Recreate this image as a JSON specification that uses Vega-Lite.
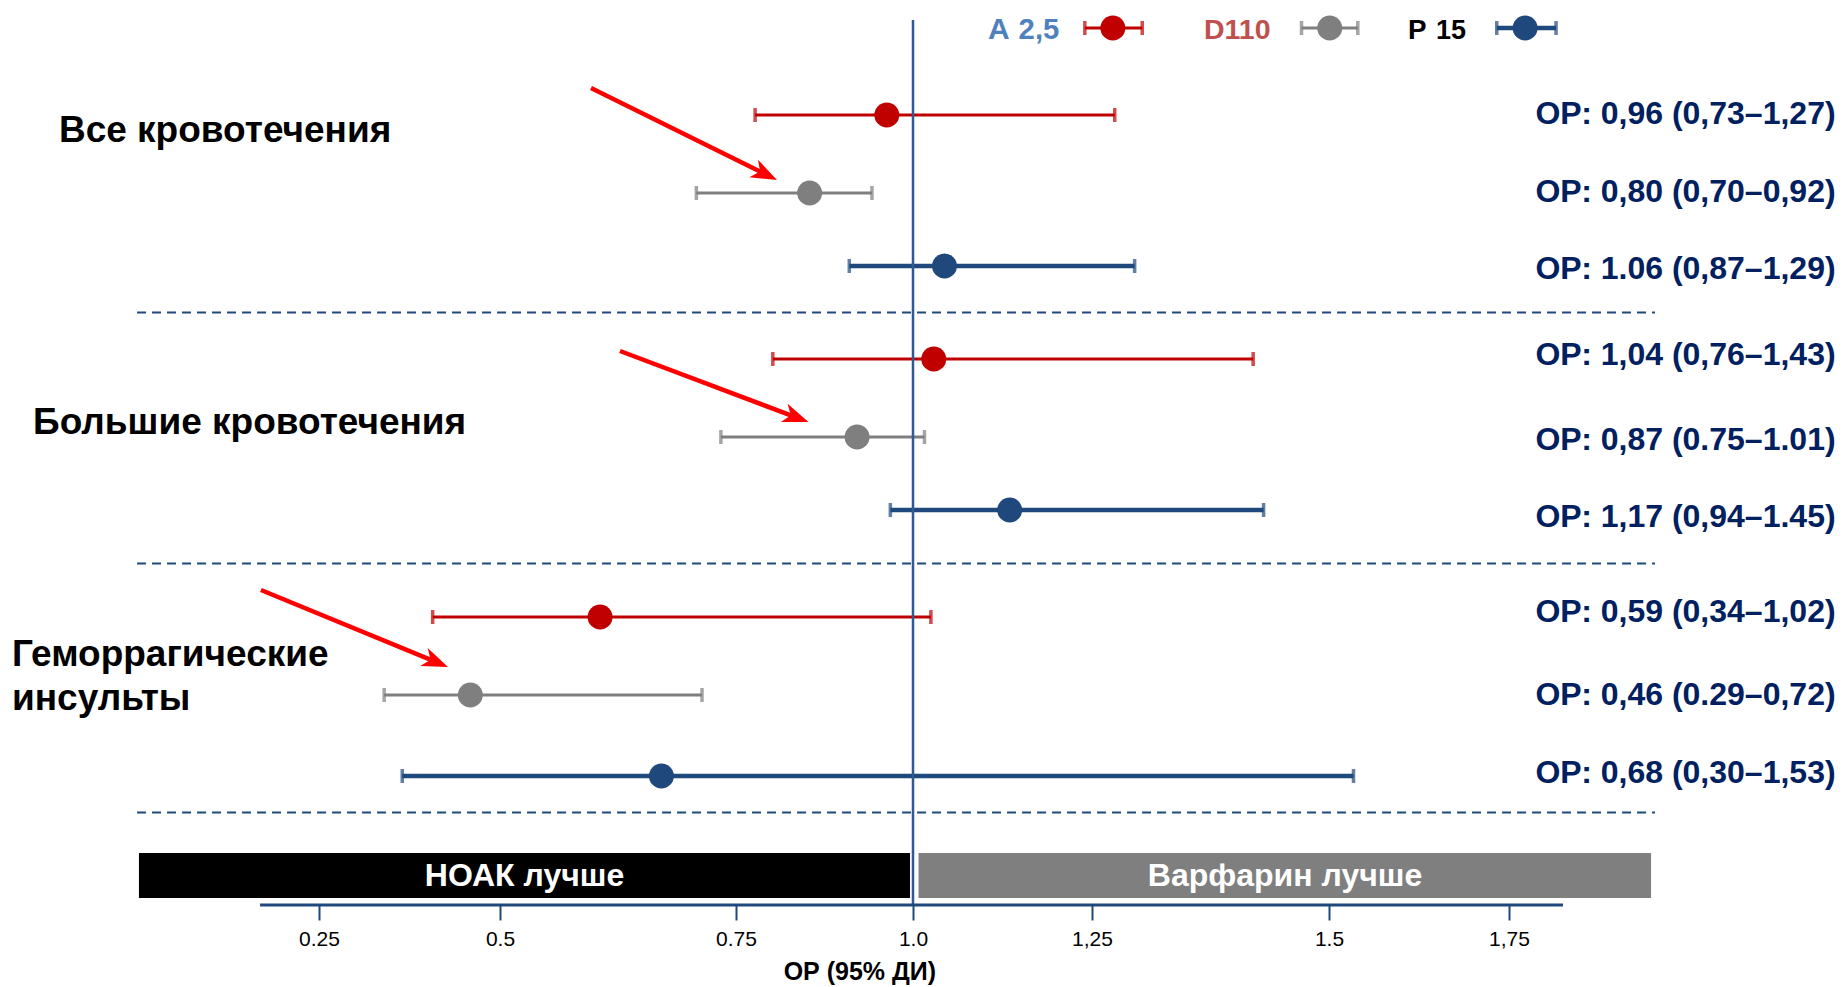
{
"$schema": "https://vega.github.io/schema/vega-lite/v6.json",
"width": 1845, "height": 905, "padding": 0,
"background": "#ffffff",
"config": {"view": {"stroke": null}, "text": {"font": "Liberation Sans"}},
"resolve": {"axis": {"x": "independent", "y": "independent"}},
"datasets": {
 "forest": [
  {"row":1,"series":"A 2,5","or":0.963,"lo":0.777,"hi":1.274,"label":"ОР: 0,96 (0,73–1,27)","ly":0.99},
  {"row":2,"series":"D110","or":0.854,"lo":0.708,"hi":0.942,"label":"ОР: 0,80 (0,70–0,92)","ly":1.99},
  {"row":3,"series":"P 15","or":1.044,"lo":0.910,"hi":1.295,"label":"ОР: 1.06 (0,87–1,29)","ly":3.03},
  {"row":4,"series":"A 2,5","or":1.029,"lo":0.802,"hi":1.420,"label":"ОР: 1,04 (0,76–1,43)","ly":3.96},
  {"row":5,"series":"D110","or":0.921,"lo":0.734,"hi":1.016,"label":"ОР: 0,87 (0.75–1.01)","ly":5.04},
  {"row":6,"series":"P 15","or":1.135,"lo":0.968,"hi":1.431,"label":"ОР: 1,17 (0,94–1.45)","ly":6.07},
  {"row":7,"series":"A 2,5","or":0.606,"lo":0.407,"hi":1.025,"label":"ОР: 0,59 (0,34–1,02)","ly":6.95},
  {"row":8,"series":"D110","or":0.459,"lo":0.340,"hi":0.714,"label":"ОР: 0,46 (0.29–0,72)","ly":8.0},
  {"row":9,"series":"P 15","or":0.671,"lo":0.365,"hi":1.534,"label":"ОР: 0,68 (0,30–1,53)","ly":8.96}
 ],
 "legend": [
  {"series":"A 2,5","or":1.272,"lo":1.240,"hi":1.303,"y":0.2435},
  {"series":"D110","or":1.501,"lo":1.471,"hi":1.540,"y":0.2435},
  {"series":"P 15","or":1.762,"lo":1.733,"hi":1.785,"y":0.2435}
 ],
 "legendText": [
  {"key":"A","x":1.1047},{"key":"2,5","x":1.1475},{"key":"D110","x":1.3681},{"key":"P","x":1.6097},{"key":"15","x":1.6486}
 ],
 "groups": [
  {"name":"Все кровотечения","x":0.0462,"y":1.35},
  {"name":"Большие кровотечения","x":0.0259,"y":4.962},
  {"name":"Геморрагические\nинсульты","x":0.0094,"y":7.628}
 ],
 "separators":[{"y":3.5},{"y":6.5},{"y":9.5}],
 "bands":[{"side":"НОАК лучше","x":0.1089,"x2":0.9958,"tx":0.526},{"side":"Варфарин лучше","x":1.0077,"x2":1.8557,"tx":1.4536}],
 "reference":[{"or":1}],
 "arrows":[
  {"id":1,"x":0.5964,"y":0.765,"x2":0.7903,"y2":1.754,"tipx":0.8079,"tipy":1.833},
  {"id":2,"x":0.6271,"y":3.914,"x2":0.8339,"y2":4.745,"tipx":0.8524,"tipy":4.808},
  {"id":3,"x":0.2045,"y":6.748,"x2":0.4104,"y2":7.573,"tipx":0.4282,"tipy":7.641}
 ],
 "axisTitle":[{"t":"ОР (95% ДИ)","x":0.925,"y":12.196}]
},
"layer": [
 {"data":{"name":"separators"},
  "mark":{"type":"rule","color":"#1F497D","strokeWidth":2,"strokeDash":[9,6]},
  "encoding":{
   "x":{"datum":0.1074,"type":"quantitative","scale":{"domain":[0,0.25,0.5,0.75,1,1.25,1.5,1.75,2],"range":[0,319,500,736,913,1092,1329,1509,1845],"nice":false,"zero":false},
        "axis":{"values":[0.25,0.5,0.75,1,1.25,1.5,1.75],"labelExpr":"datum.value == 0.25 ? '0.25' : datum.value == 0.5 ? '0.5' : datum.value == 0.75 ? '0.75' : datum.value == 1 ? '1.0' : datum.value == 1.25 ? '1,25' : datum.value == 1.5 ? '1.5' : '1,75'","domain":false,"grid":false,"ticks":true,"tickSize":15,"tickWidth":2,"tickColor":"#1F497D","labelFont":"Liberation Sans","labelFontSize":21,"labelColor":"#000000","labelPadding":8,"labelFlush":false,"labelOverlap":false,"labelBound":false,"title":null,"orient":"bottom"}},
   "x2":{"datum":1.8586},
   "y":{"field":"y","type":"quantitative","scale":{"domain":[0,1,2,3,4,5,6,7,8,9,10,11],"range":[0,115,193,266,359,437,510,617,695,776,849,905],"nice":false,"zero":false},"axis":null}}},
 {"data":{"name":"bands"},
  "mark":{"type":"rect"},
  "encoding":{
   "x":{"field":"x","type":"quantitative","scale":{"domain":[0,0.25,0.5,0.75,1,1.25,1.5,1.75,2],"range":[0,319,500,736,913,1092,1329,1509,1845],"nice":false,"zero":false},"axis":null},
   "x2":{"field":"x2"},
   "y":{"datum":10.071,"type":"quantitative","scale":{"domain":[0,1,2,3,4,5,6,7,8,9,10,11],"range":[0,115,193,266,359,437,510,617,695,776,849,905],"nice":false,"zero":false},"axis":null},
   "y2":{"datum":10.875},
   "fill":{"field":"side","type":"nominal","scale":{"domain":["A","2,5","D110","P","15","НОАК лучше","Варфарин лучше"],"range":["#4F81BD","#4F81BD","#C0504D","#000000","#000000","#000000","#7F7F7F"]},"legend":null}}},
 {"data":{"name":"bands"},
  "mark":{"type":"text","font":"Liberation Sans","fontWeight":"bold","fontSize":32,"color":"#FFFFFF","align":"center","baseline":"middle"},
  "encoding":{
   "x":{"field":"tx","type":"quantitative","scale":{"domain":[0,0.25,0.5,0.75,1,1.25,1.5,1.75,2],"range":[0,319,500,736,913,1092,1329,1509,1845],"nice":false,"zero":false},"axis":null},
   "y":{"datum":10.482,"type":"quantitative","scale":{"domain":[0,1,2,3,4,5,6,7,8,9,10,11],"range":[0,115,193,266,359,437,510,617,695,776,849,905],"nice":false,"zero":false},"axis":null},
   "text":{"field":"side"}}},
 {"data":{"name":"forest"},
  "transform":[{"filter":"datum.series != 'P 15'"}],
  "mark":{"type":"rule","strokeWidth":3},
  "encoding":{
   "x":{"field":"lo","type":"quantitative","scale":{"domain":[0,0.25,0.5,0.75,1,1.25,1.5,1.75,2],"range":[0,319,500,736,913,1092,1329,1509,1845],"nice":false,"zero":false},"axis":null},
   "x2":{"field":"hi"},
   "y":{"field":"row","type":"quantitative","scale":{"domain":[0,1,2,3,4,5,6,7,8,9,10,11],"range":[0,115,193,266,359,437,510,617,695,776,849,905],"nice":false,"zero":false},"axis":null},
   "color":{"field":"series","type":"nominal","scale":{"domain":["A 2,5","D110","P 15"],"range":["#C00000","#7F7F7F","#1F497D"]},"legend":null}}},
 {"data":{"name":"forest"},
  "transform":[{"filter":"datum.series == 'P 15'"}],
  "mark":{"type":"rule","strokeWidth":4.5},
  "encoding":{
   "x":{"field":"lo","type":"quantitative","scale":{"domain":[0,0.25,0.5,0.75,1,1.25,1.5,1.75,2],"range":[0,319,500,736,913,1092,1329,1509,1845],"nice":false,"zero":false},"axis":null},
   "x2":{"field":"hi"},
   "y":{"field":"row","type":"quantitative","scale":{"domain":[0,1,2,3,4,5,6,7,8,9,10,11],"range":[0,115,193,266,359,437,510,617,695,776,849,905],"nice":false,"zero":false},"axis":null},
   "color":{"field":"series","type":"nominal","scale":{"domain":["A 2,5","D110","P 15"],"range":["#C00000","#7F7F7F","#1F497D"]},"legend":null}}},
 {"data":{"name":"forest"},
  "mark":{"type":"tick","orient":"vertical","thickness":3.5,"size":14},
  "encoding":{
   "x":{"field":"lo","type":"quantitative","scale":{"domain":[0,0.25,0.5,0.75,1,1.25,1.5,1.75,2],"range":[0,319,500,736,913,1092,1329,1509,1845],"nice":false,"zero":false},"axis":null},
   "y":{"field":"row","type":"quantitative","scale":{"domain":[0,1,2,3,4,5,6,7,8,9,10,11],"range":[0,115,193,266,359,437,510,617,695,776,849,905],"nice":false,"zero":false},"axis":null},
   "color":{"field":"series","type":"nominal","scale":{"domain":["A 2,5","D110","P 15"],"range":["#C00000","#7F7F7F","#1F497D"]},"legend":null}}},
 {"data":{"name":"forest"},
  "mark":{"type":"tick","orient":"vertical","thickness":3.5,"size":14},
  "encoding":{
   "x":{"field":"hi","type":"quantitative","scale":{"domain":[0,0.25,0.5,0.75,1,1.25,1.5,1.75,2],"range":[0,319,500,736,913,1092,1329,1509,1845],"nice":false,"zero":false},"axis":null},
   "y":{"field":"row","type":"quantitative","scale":{"domain":[0,1,2,3,4,5,6,7,8,9,10,11],"range":[0,115,193,266,359,437,510,617,695,776,849,905],"nice":false,"zero":false},"axis":null},
   "color":{"field":"series","type":"nominal","scale":{"domain":["A 2,5","D110","P 15"],"range":["#C00000","#7F7F7F","#1F497D"]},"legend":null}}},
 {"data":{"name":"reference"},
  "mark":{"type":"rule","color":"#2E5A92","strokeWidth":2.5},
  "encoding":{
   "x":{"field":"or","type":"quantitative","scale":{"domain":[0,0.25,0.5,0.75,1,1.25,1.5,1.75,2],"range":[0,319,500,736,913,1092,1329,1509,1845],"nice":false,"zero":false},"axis":null},
   "y":{"datum":0.174,"type":"quantitative","scale":{"domain":[0,1,2,3,4,5,6,7,8,9,10,11],"range":[0,115,193,266,359,437,510,617,695,776,849,905],"nice":false,"zero":false},"axis":null},
   "y2":{"datum":11}}},
 {"data":{"name":"reference"},
  "mark":{"type":"rule","color":"#1F497D","strokeWidth":3},
  "encoding":{
   "x":{"datum":0.2038,"type":"quantitative","scale":{"domain":[0,0.25,0.5,0.75,1,1.25,1.5,1.75,2],"range":[0,319,500,736,913,1092,1329,1509,1845],"nice":false,"zero":false},"axis":null},
   "x2":{"datum":1.7902},
   "y":{"datum":11,"type":"quantitative","scale":{"domain":[0,1,2,3,4,5,6,7,8,9,10,11],"range":[0,115,193,266,359,437,510,617,695,776,849,905],"nice":false,"zero":false},"axis":null}}},
 {"data":{"name":"forest"},
  "mark":{"type":"point","filled":true,"opacity":1,"size":625,"shape":"circle"},
  "encoding":{
   "x":{"field":"or","type":"quantitative","scale":{"domain":[0,0.25,0.5,0.75,1,1.25,1.5,1.75,2],"range":[0,319,500,736,913,1092,1329,1509,1845],"nice":false,"zero":false},"axis":null},
   "y":{"field":"row","type":"quantitative","scale":{"domain":[0,1,2,3,4,5,6,7,8,9,10,11],"range":[0,115,193,266,359,437,510,617,695,776,849,905],"nice":false,"zero":false},"axis":null},
   "color":{"field":"series","type":"nominal","scale":{"domain":["A 2,5","D110","P 15"],"range":["#C00000","#7F7F7F","#1F497D"]},"legend":null}}},
 {"data":{"name":"forest"},
  "mark":{"type":"text","align":"right","baseline":"middle","font":"Liberation Sans","fontWeight":"bold","fontSize":32,"color":"#002060"},
  "encoding":{
   "x":{"datum":1.993,"type":"quantitative","scale":{"domain":[0,0.25,0.5,0.75,1,1.25,1.5,1.75,2],"range":[0,319,500,736,913,1092,1329,1509,1845],"nice":false,"zero":false},"axis":null},
   "y":{"field":"ly","type":"quantitative","scale":{"domain":[0,1,2,3,4,5,6,7,8,9,10,11],"range":[0,115,193,266,359,437,510,617,695,776,849,905],"nice":false,"zero":false},"axis":null},
   "text":{"field":"label"}}},
 {"data":{"name":"legend"},
  "transform":[{"filter":"datum.series != 'P 15'"}],
  "mark":{"type":"rule","strokeWidth":3},
  "encoding":{
   "x":{"field":"lo","type":"quantitative","scale":{"domain":[0,0.25,0.5,0.75,1,1.25,1.5,1.75,2],"range":[0,319,500,736,913,1092,1329,1509,1845],"nice":false,"zero":false},"axis":null},
   "x2":{"field":"hi"},
   "y":{"field":"y","type":"quantitative","scale":{"domain":[0,1,2,3,4,5,6,7,8,9,10,11],"range":[0,115,193,266,359,437,510,617,695,776,849,905],"nice":false,"zero":false},"axis":null},
   "color":{"field":"series","type":"nominal","scale":{"domain":["A 2,5","D110","P 15"],"range":["#C00000","#7F7F7F","#1F497D"]},"legend":null}}},
 {"data":{"name":"legend"},
  "transform":[{"filter":"datum.series == 'P 15'"}],
  "mark":{"type":"rule","strokeWidth":4.5},
  "encoding":{
   "x":{"field":"lo","type":"quantitative","scale":{"domain":[0,0.25,0.5,0.75,1,1.25,1.5,1.75,2],"range":[0,319,500,736,913,1092,1329,1509,1845],"nice":false,"zero":false},"axis":null},
   "x2":{"field":"hi"},
   "y":{"field":"y","type":"quantitative","scale":{"domain":[0,1,2,3,4,5,6,7,8,9,10,11],"range":[0,115,193,266,359,437,510,617,695,776,849,905],"nice":false,"zero":false},"axis":null},
   "color":{"field":"series","type":"nominal","scale":{"domain":["A 2,5","D110","P 15"],"range":["#C00000","#7F7F7F","#1F497D"]},"legend":null}}},
 {"data":{"name":"legend"},
  "mark":{"type":"tick","orient":"vertical","thickness":3.5,"size":14},
  "encoding":{
   "x":{"field":"lo","type":"quantitative","scale":{"domain":[0,0.25,0.5,0.75,1,1.25,1.5,1.75,2],"range":[0,319,500,736,913,1092,1329,1509,1845],"nice":false,"zero":false},"axis":null},
   "y":{"field":"y","type":"quantitative","scale":{"domain":[0,1,2,3,4,5,6,7,8,9,10,11],"range":[0,115,193,266,359,437,510,617,695,776,849,905],"nice":false,"zero":false},"axis":null},
   "color":{"field":"series","type":"nominal","scale":{"domain":["A 2,5","D110","P 15"],"range":["#C00000","#7F7F7F","#1F497D"]},"legend":null}}},
 {"data":{"name":"legend"},
  "mark":{"type":"tick","orient":"vertical","thickness":3.5,"size":14},
  "encoding":{
   "x":{"field":"hi","type":"quantitative","scale":{"domain":[0,0.25,0.5,0.75,1,1.25,1.5,1.75,2],"range":[0,319,500,736,913,1092,1329,1509,1845],"nice":false,"zero":false},"axis":null},
   "y":{"field":"y","type":"quantitative","scale":{"domain":[0,1,2,3,4,5,6,7,8,9,10,11],"range":[0,115,193,266,359,437,510,617,695,776,849,905],"nice":false,"zero":false},"axis":null},
   "color":{"field":"series","type":"nominal","scale":{"domain":["A 2,5","D110","P 15"],"range":["#C00000","#7F7F7F","#1F497D"]},"legend":null}}},
 {"data":{"name":"legend"},
  "mark":{"type":"point","filled":true,"opacity":1,"size":625,"shape":"circle"},
  "encoding":{
   "x":{"field":"or","type":"quantitative","scale":{"domain":[0,0.25,0.5,0.75,1,1.25,1.5,1.75,2],"range":[0,319,500,736,913,1092,1329,1509,1845],"nice":false,"zero":false},"axis":null},
   "y":{"field":"y","type":"quantitative","scale":{"domain":[0,1,2,3,4,5,6,7,8,9,10,11],"range":[0,115,193,266,359,437,510,617,695,776,849,905],"nice":false,"zero":false},"axis":null},
   "color":{"field":"series","type":"nominal","scale":{"domain":["A 2,5","D110","P 15"],"range":["#C00000","#7F7F7F","#1F497D"]},"legend":null}}},
 {"data":{"name":"legendText"},
  "mark":{"type":"text","align":"left","baseline":"alphabetic","font":"Liberation Sans","fontWeight":"bold"},
  "encoding":{
   "x":{"field":"x","type":"quantitative","scale":{"domain":[0,0.25,0.5,0.75,1,1.25,1.5,1.75,2],"range":[0,319,500,736,913,1092,1329,1509,1845],"nice":false,"zero":false},"axis":null},
   "y":{"datum":0.339,"type":"quantitative","scale":{"domain":[0,1,2,3,4,5,6,7,8,9,10,11],"range":[0,115,193,266,359,437,510,617,695,776,849,905],"nice":false,"zero":false},"axis":null},
   "text":{"field":"key"},
   "fill":{"field":"key","type":"nominal","scale":{"domain":["A","2,5","D110","P","15","НОАК лучше","Варфарин лучше"],"range":["#4F81BD","#4F81BD","#C0504D","#000000","#000000","#000000","#7F7F7F"]},"legend":null},
   "size":{"field":"key","type":"ordinal","scale":{"domain":["A","2,5","D110","P","15"],"range":[30,27,28,30,27]},"legend":null}}},
 {"data":{"name":"groups"},
  "mark":{"type":"text","align":"left","baseline":"alphabetic","font":"Liberation Sans","fontWeight":"bold","fontSize":37,"color":"#000000","lineBreak":"\n","lineHeight":44},
  "encoding":{
   "x":{"field":"x","type":"quantitative","scale":{"domain":[0,0.25,0.5,0.75,1,1.25,1.5,1.75,2],"range":[0,319,500,736,913,1092,1329,1509,1845],"nice":false,"zero":false},"axis":null},
   "y":{"field":"y","type":"quantitative","scale":{"domain":[0,1,2,3,4,5,6,7,8,9,10,11],"range":[0,115,193,266,359,437,510,617,695,776,849,905],"nice":false,"zero":false},"axis":null},
   "text":{"field":"name"}}},
 {"data":{"name":"axisTitle"},
  "mark":{"type":"text","align":"center","baseline":"middle","font":"Liberation Sans","fontWeight":"bold","fontSize":25,"color":"#000000"},
  "encoding":{
   "x":{"field":"x","type":"quantitative","scale":{"domain":[0,0.25,0.5,0.75,1,1.25,1.5,1.75,2],"range":[0,319,500,736,913,1092,1329,1509,1845],"nice":false,"zero":false},"axis":null},
   "y":{"field":"y","type":"quantitative","scale":{"domain":[0,1,2,3,4,5,6,7,8,9,10,11],"range":[0,115,193,266,359,437,510,617,695,776,849,905],"nice":false,"zero":false},"axis":null},
   "text":{"field":"t"}}},
 {"data":{"name":"arrows"},
  "mark":{"type":"rule","color":"#FF0000","strokeWidth":4.5},
  "encoding":{
   "x":{"field":"x","type":"quantitative","scale":{"domain":[0,0.25,0.5,0.75,1,1.25,1.5,1.75,2],"range":[0,319,500,736,913,1092,1329,1509,1845],"nice":false,"zero":false},"axis":null},
   "x2":{"field":"x2"},
   "y":{"field":"y","type":"quantitative","scale":{"domain":[0,1,2,3,4,5,6,7,8,9,10,11],"range":[0,115,193,266,359,437,510,617,695,776,849,905],"nice":false,"zero":false},"axis":null},
   "y2":{"field":"y2"}}},
 {"data":{"name":"arrows"},
  "transform":[{"filter":"datum.id == 1"}],
  "mark":{"type":"point","shape":"M0,0L-2,-0.75L-1.45,0L-2,0.75Z","filled":true,"color":"#FF0000","opacity":1,"size":676,"angle":26.3,"strokeWidth":0},
  "encoding":{
   "x":{"field":"tipx","type":"quantitative","scale":{"domain":[0,0.25,0.5,0.75,1,1.25,1.5,1.75,2],"range":[0,319,500,736,913,1092,1329,1509,1845],"nice":false,"zero":false},"axis":null},
   "y":{"field":"tipy","type":"quantitative","scale":{"domain":[0,1,2,3,4,5,6,7,8,9,10,11],"range":[0,115,193,266,359,437,510,617,695,776,849,905],"nice":false,"zero":false},"axis":null}}},
 {"data":{"name":"arrows"},
  "transform":[{"filter":"datum.id == 2"}],
  "mark":{"type":"point","shape":"M0,0L-2,-0.75L-1.45,0L-2,0.75Z","filled":true,"color":"#FF0000","opacity":1,"size":676,"angle":20.6,"strokeWidth":0},
  "encoding":{
   "x":{"field":"tipx","type":"quantitative","scale":{"domain":[0,0.25,0.5,0.75,1,1.25,1.5,1.75,2],"range":[0,319,500,736,913,1092,1329,1509,1845],"nice":false,"zero":false},"axis":null},
   "y":{"field":"tipy","type":"quantitative","scale":{"domain":[0,1,2,3,4,5,6,7,8,9,10,11],"range":[0,115,193,266,359,437,510,617,695,776,849,905],"nice":false,"zero":false},"axis":null}}},
 {"data":{"name":"arrows"},
  "transform":[{"filter":"datum.id == 3"}],
  "mark":{"type":"point","shape":"M0,0L-2,-0.75L-1.45,0L-2,0.75Z","filled":true,"color":"#FF0000","opacity":1,"size":676,"angle":22.4,"strokeWidth":0},
  "encoding":{
   "x":{"field":"tipx","type":"quantitative","scale":{"domain":[0,0.25,0.5,0.75,1,1.25,1.5,1.75,2],"range":[0,319,500,736,913,1092,1329,1509,1845],"nice":false,"zero":false},"axis":null},
   "y":{"field":"tipy","type":"quantitative","scale":{"domain":[0,1,2,3,4,5,6,7,8,9,10,11],"range":[0,115,193,266,359,437,510,617,695,776,849,905],"nice":false,"zero":false},"axis":null}}}
]
}
